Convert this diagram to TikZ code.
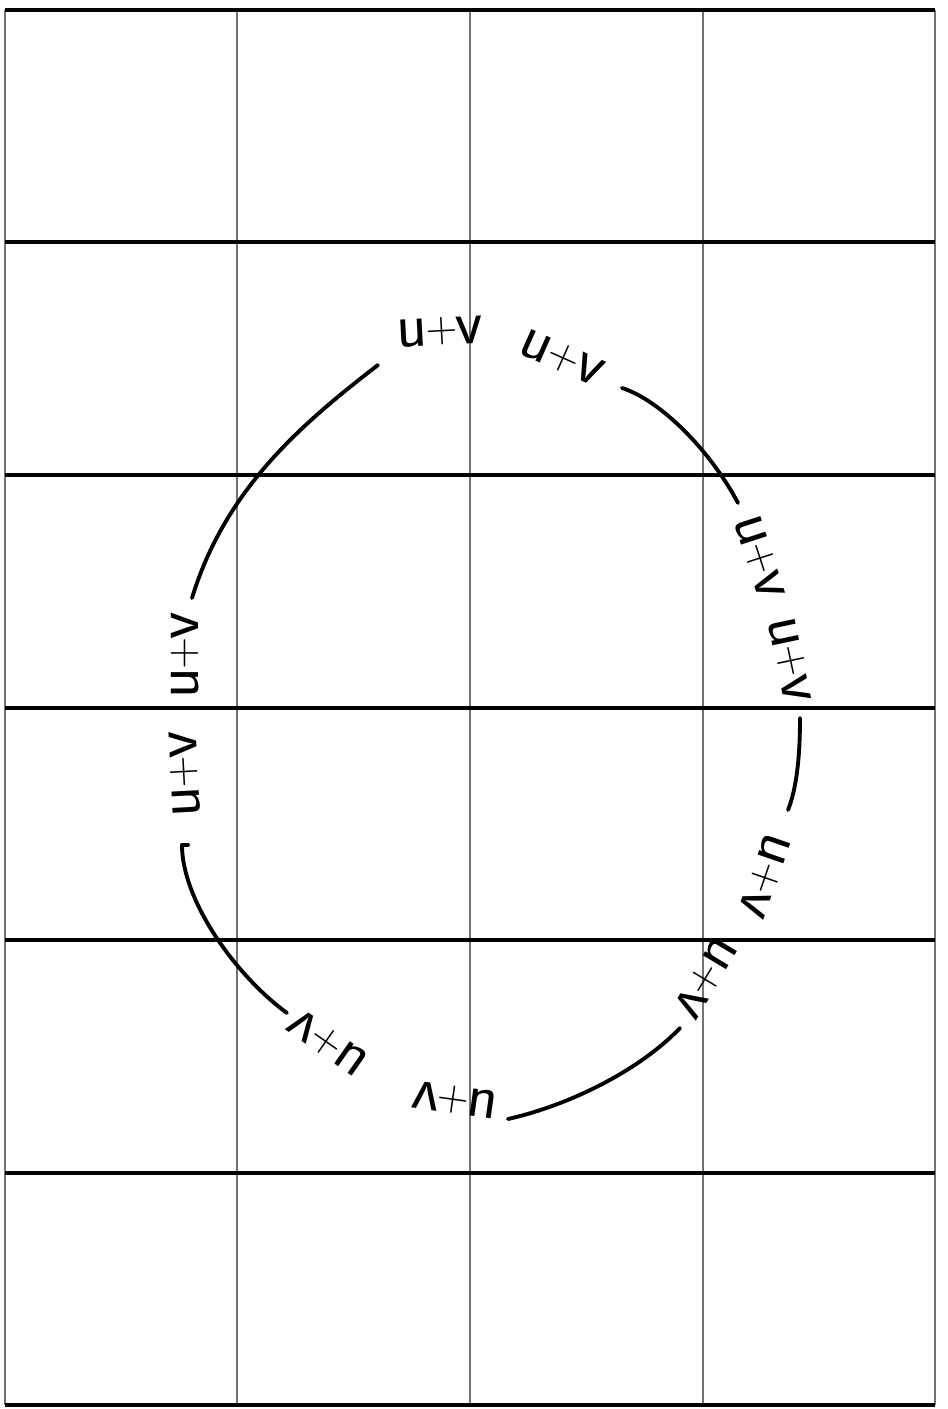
\documentclass[tikz,border=0pt]{standalone}
\begin{document}
\begin{tikzpicture}[x=0.01cm,y=-0.01cm,
  hline/.style={black,line width=0.9pt},
  vline/.style={black!55,line width=0.8pt},
  arcline/.style={black,line width=1.1pt,line cap=round},
  lbl/.style={inner sep=0pt,font=\sffamily\fontsize{18}{19}\selectfont}]
\newcommand{\uvtext}{u\kern-0.5pt\raisebox{1pt}{\fontsize{12}{12}\selectfont+}\kern-0.5pt v}
\useasboundingbox (0,0) rectangle (947,1409);
\fill[white] (0,0) rectangle (947,1409);
% grid
\foreach \x in {5,237,470,703,935} \draw[vline] (\x,10) -- (\x,1405);
\foreach \y in {10,242,475,708,940,1173,1405} \draw[hline] (5,\y) -- (935,\y);
% labels
\node[lbl,rotate=3]    (l1)  at (440,332)  {\uvtext};
\node[lbl,rotate=-24]  (l2)  at (562,358)  {\uvtext};
\node[lbl,rotate=-72]  (l3)  at (760,557)  {\uvtext};
\node[lbl,rotate=-78]  (l4)  at (790,660)  {\uvtext};
\node[lbl,rotate=-109] (l5)  at (765,876)  {\uvtext};
\node[lbl,rotate=-121] (l6)  at (706,978)  {\uvtext};
\node[lbl,rotate=172]  (l7)  at (455,1100) {\uvtext};
\node[lbl,rotate=145]  (l8)  at (328,1043) {\uvtext};
\node[lbl,rotate=90]   (l9)  at (185,655)  {\uvtext};
\node[lbl,rotate=93]   (l10) at (185,774)  {\uvtext};
% arc end points
\coordinate (a1) at (378,365);  \coordinate (a9) at (192,598);
\coordinate (b2) at (622,388);  \coordinate (b3) at (738,503);
\coordinate (c4) at (800,718);  \coordinate (c5) at (788,810);
\coordinate (d10) at (182,845); \coordinate (d8) at (287,1013);
\coordinate (e7) at (508,1119); \coordinate (e6) at (680,1028);
% arcs
\draw[arcline] (a1) .. controls (300,425) and (225,490) .. (a9);
\draw[arcline] (b2) .. controls (660,400) and (710,450) .. (b3);
\draw[arcline] (c4) .. controls (800,760) and (796,790) .. (c5);
\draw[arcline] (188,845) -- (d10);
\draw[arcline] (d10) .. controls (182,900) and (235,975) .. (d8);
\draw[arcline] (e7) .. controls (570,1105) and (640,1070) .. (e6);
\end{tikzpicture}
\end{document}
